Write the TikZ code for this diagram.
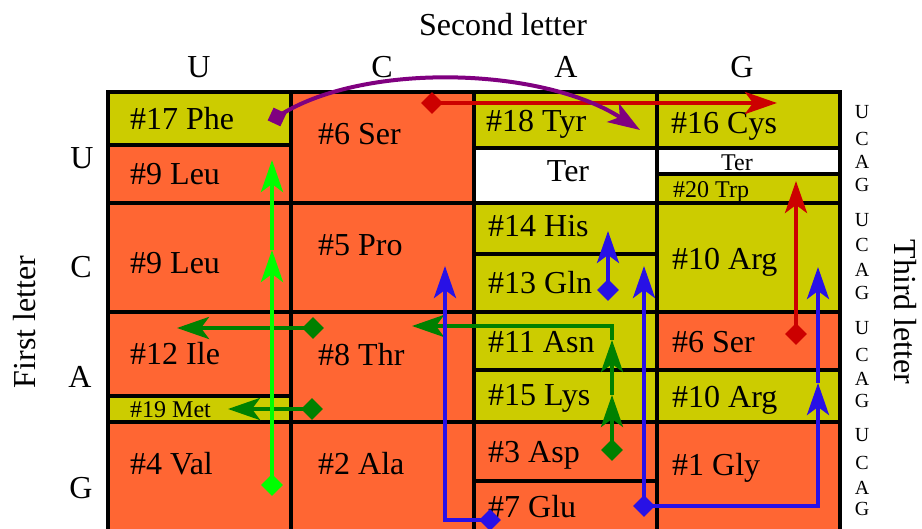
\documentclass[tikz,border=0pt]{standalone}
\usepackage{fontspec}
\setmainfont{Liberation Serif}
\usetikzlibrary{arrows.meta,shapes.geometric}
\definecolor{cor}{RGB}{255,102,51}
\definecolor{cye}{RGB}{204,204,0}
\definecolor{cpu}{RGB}{128,0,128}
\definecolor{cre}{RGB}{204,0,0}
\definecolor{clg}{RGB}{0,255,0}
\definecolor{cdg}{RGB}{0,128,0}
\definecolor{cbl}{RGB}{40,17,230}
\begin{document}
\begin{tikzpicture}[x=1pt,y=-1pt,
  cell/.style={draw=black,line width=3.5pt},
  ocell/.style={cell,fill=cor},
  ycell/.style={cell,fill=cye},
  wcell/.style={cell,fill=white},
  lab/.style={anchor=base west,inner sep=0pt,font=\fontsize{32}{32}\selectfont},
  slab/.style={anchor=base west,inner sep=0pt,font=\fontsize{24}{24}\selectfont},
  head/.style={anchor=base,inner sep=0pt,font=\fontsize{32}{32}\selectfont},
  tl/.style={anchor=base,inner sep=0pt,font=\fontsize{20}{20}\selectfont},
  arr/.style={line width=4pt,-{Stealth[length=32pt,width=22pt,inset=8pt]}},
  dia/.style={shape=diamond,minimum width=22pt,minimum height=22pt,inner sep=0pt}]
\useasboundingbox (0,0) rectangle (922,529);
\clip (0,0) rectangle (922,529);
% U column
\path[ycell] (108,92) rectangle (291,145);
\path[ocell] (108,145) rectangle (291,203);
\path[ocell] (108,203) rectangle (291,312);
\path[ocell] (108,312) rectangle (291,396);
\path[ycell] (108,396) rectangle (291,422);
\path[ocell] (108,422) rectangle (291,545);
% C column
\path[ocell] (291,92) rectangle (474,203);
\path[ocell] (291,203) rectangle (474,312);
\path[ocell] (291,312) rectangle (474,422);
\path[ocell] (291,422) rectangle (474,545);
% A column
\path[ycell] (474,92) rectangle (657,148);
\path[wcell] (474,148) rectangle (657,203);
\path[ycell] (474,203) rectangle (657,254);
\path[ycell] (474,254) rectangle (657,312);
\path[ycell] (474,312) rectangle (657,370);
\path[ycell] (474,370) rectangle (657,422);
\path[ocell] (474,422) rectangle (657,481);
\path[ocell] (474,481) rectangle (657,545);
% G column
\path[ycell] (657,92) rectangle (840,148);
\path[wcell] (657,148) rectangle (840,174);
\path[ycell] (657,174) rectangle (840,203);
\path[ycell] (657,203) rectangle (840,312);
\path[ocell] (657,312) rectangle (840,370);
\path[ycell] (657,370) rectangle (840,422);
\path[ocell] (657,422) rectangle (840,545);
% cell labels
\node[lab] (phe) at (130,130) {\#17 Phe};
\node[lab] (leu1) at (130,185) {\#9 Leu};
\node[lab] (leu2) at (130,274) {\#9 Leu};
\node[lab] (ile) at (130,365) {\#12 Ile};
\node[slab] (met) at (130,418) {\#19 Met};
\node[lab] (val) at (130,475) {\#4 Val};
\node[lab] (ser1) at (318,145) {\#6 Ser};
\node[lab] (pro) at (318,256) {\#5 Pro};
\node[lab] (thr) at (318,366) {\#8 Thr};
\node[lab] (ala) at (318,475) {\#2 Ala};
\node[lab] (tyr) at (486,132) {\#18 Tyr};
\node[head] (ter1) at (568,182) {Ter};
\node[lab] (his) at (488,237) {\#14 His};
\node[lab] (gln) at (488,294) {\#13 Gln};
\node[lab] (asn) at (488,353) {\#11 Asn};
\node[lab] (lys) at (488,406) {\#15 Lys};
\node[lab] (asp) at (488,463) {\#3 Asp};
\node[lab] (glu) at (488,518) {\#7 Glu};
\node[lab] (cys) at (671,134) {\#16 Cys};
\node[anchor=base,inner sep=0pt,font=\fontsize{24}{24}\selectfont] (ter2) at (737,171) {Ter};
\node[slab] (trp) at (673,198) {\#20 Trp};
\node[lab] (arg1) at (672,270) {\#10 Arg};
\node[lab] (ser2) at (672,353) {\#6 Ser};
\node[lab] (arg2) at (672,408) {\#10 Arg};
\node[lab] (gly) at (672,476) {\#1 Gly};
% headers
\node[head] (second) at (503,36) {Second letter};
\node[head] (cu) at (199,78) {U};
\node[head] (cc) at (382,78) {C};
\node[head] (ca) at (566,78) {A};
\node[head] (cg) at (742,78) {G};
\node[head] (ru) at (82,169) {U};
\node[head] (rc) at (81,278) {C};
\node[head] (ra) at (80,388) {A};
\node[head] (rg) at (81,498) {G};
\node[inner sep=0pt,rotate=90,font=\fontsize{32}{32}\selectfont] (first) at (25,322) {First letter};
\node[inner sep=0pt,rotate=-90,font=\fontsize{32}{32}\selectfont] (third) at (905,312) {Third letter};
% third letters
\foreach \r/\a/\b/\c/\d in {1/112/139/162/185, 2/220/245/270/293, 3/328/355/379/401, 4/435/463/487/508}{
  \node[tl] (tu\r) at (862,\a+7) {U};
  \node[tl] (tc\r) at (862,\b+7) {C};
  \node[tl] (ta\r) at (862,\c+7) {A};
  \node[tl] (tg\r) at (862,\d+7) {G};
}
% red
\node[dia,fill=cre] (r1d) at (432,103) {};
\coordinate (r1t) at (777,103);
\draw[arr,cre] (r1d.center) -- (r1t);
\node[dia,fill=cre] (r2d) at (796,334) {};
\coordinate (r2t) at (796,181);
\draw[arr,cre] (r2d.center) -- (r2t);
% dark green
\node[dia,fill=cdg] (dg1d) at (313,328) {};
\coordinate (dg1t) at (177,328);
\draw[arr,cdg] (dg1d.center) -- (dg1t);
\node[dia,fill=cdg] (dg2d) at (312,409) {};
\coordinate (dg2t) at (228,409);
\draw[arr,cdg] (dg2d.center) -- (dg2t);
\node[dia,fill=cdg] (dg3d) at (612,450) {};
\coordinate (dg3a) at (612,395);
\coordinate (dg3b) at (612,340);
\coordinate (dg3c) at (612,326);
\coordinate (dg3t) at (412,326);
\draw[arr,cdg] (dg3d.center) -- (dg3a);
\draw[arr,cdg] (dg3a) -- (dg3b);
\draw[arr,cdg] (dg3b) -- (dg3c) -- (dg3t);
% light green
\node[dia,fill=clg] (lgd) at (272,485) {};
\coordinate (lgm) at (272,250);
\coordinate (lgt) at (272,160);
\draw[arr,clg] (lgd.center) -- (lgm);
\draw[arr,clg] (lgm) -- (lgt);
% blue
\node[dia,fill=cbl] (b1d) at (490,520) {};
\coordinate (b1c) at (445,520);
\coordinate (b1t) at (445,266);
\draw[arr,cbl] (b1d.center) -- (b1c) -- (b1t);
\node[dia,fill=cbl] (b2d) at (608,290) {};
\coordinate (b2t) at (608,231);
\draw[arr,cbl] (b2d.center) -- (b2t);
\node[dia,fill=cbl] (b3d) at (644,506) {};
\coordinate (b3t) at (644,266);
\coordinate (b3c) at (818,506);
\coordinate (b3m) at (818,383);
\coordinate (b4t) at (818,267);
\draw[arr,cbl] (b3d.center) -- (b3t);
\draw[arr,cbl] (b3d.center) -- (b3c) -- (b3m);
\draw[arr,cbl] (b3m) -- (b4t);
% purple
\node[dia,fill=cpu,rotate=20,minimum width=20pt,minimum height=20pt] (pd) at (277,117) {};
\coordinate (pt) at (640,130);
\draw[arr,cpu] (pd.center) .. controls (360,62) and (540,66) .. (pt);
\end{tikzpicture}
\end{document}
